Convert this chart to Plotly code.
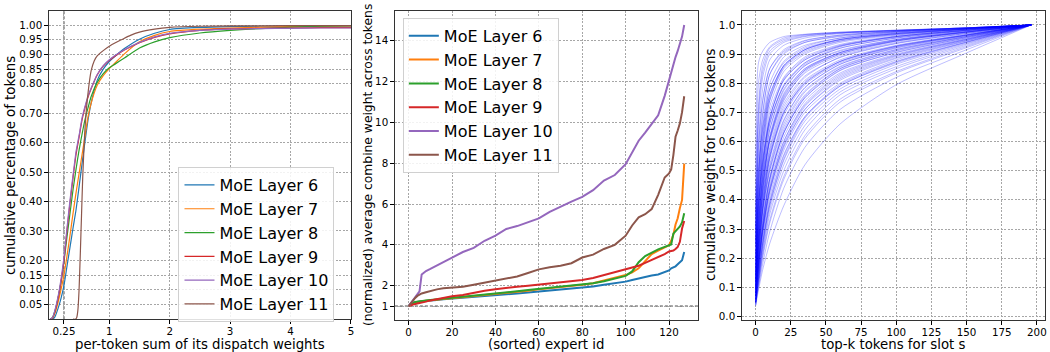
import plotly.graph_objects as go

FONT = "DejaVu Sans"

layer_names = ["MoE Layer 6", "MoE Layer 7", "MoE Layer 8",
               "MoE Layer 9", "MoE Layer 10", "MoE Layer 11"]
layer_colors = ["#1f77b4", "#ff7f0e", "#2ca02c", "#d62728", "#9467bd", "#8c564b"]

# ---------- left panel: CDF of the per-token sum of dispatch weights ----------
dispatch_sum = [0.02, 0.06, 0.1, 0.15, 0.2, 0.25, 0.3, 0.35, 0.4, 0.45, 0.5, 0.55,
                0.6, 0.65, 0.7, 0.8, 0.9, 1.0, 1.1, 1.25, 1.5, 1.75, 2.0, 2.5,
                3.0, 3.5, 4.0, 4.5, 5.0]
cdf_layer6 = [0.0, 0.0, 0.008, 0.035, 0.07, 0.115, 0.18, 0.245, 0.31, 0.372, 0.45, 0.53,
              0.607, 0.68, 0.735, 0.812, 0.85, 0.876, 0.895, 0.92, 0.952, 0.972, 0.985, 0.992,
              0.995, 0.996, 0.997, 0.997, 0.997]
cdf_layer7 = [0.0, 0.003, 0.02, 0.055, 0.1, 0.15, 0.215, 0.285, 0.36, 0.43, 0.495, 0.56,
              0.625, 0.69, 0.735, 0.795, 0.828, 0.852, 0.872, 0.902, 0.943, 0.965, 0.978, 0.986,
              0.99, 0.993, 0.995, 0.996, 0.997]
cdf_layer8 = [0.0, 0.005, 0.028, 0.07, 0.125, 0.195, 0.28, 0.36, 0.44, 0.51, 0.575, 0.63,
              0.68, 0.72, 0.757, 0.805, 0.835, 0.855, 0.868, 0.888, 0.922, 0.943, 0.957, 0.973,
              0.982, 0.988, 0.993, 0.996, 0.998]
cdf_layer9 = [0.0, 0.004, 0.025, 0.068, 0.125, 0.2, 0.3, 0.395, 0.48, 0.56, 0.618, 0.678,
              0.72, 0.756, 0.783, 0.83, 0.86, 0.88, 0.895, 0.915, 0.94, 0.958, 0.97, 0.982,
              0.987, 0.989, 0.99, 0.991, 0.991]
cdf_layer10 = [0.0, 0.005, 0.03, 0.075, 0.135, 0.21, 0.31, 0.405, 0.49, 0.57, 0.625, 0.685,
               0.725, 0.76, 0.786, 0.832, 0.862, 0.882, 0.897, 0.916, 0.941, 0.96, 0.972, 0.982,
               0.986, 0.988, 0.989, 0.99, 0.99]
dispatch_sum_l11 = [0.40, 0.44, 0.46, 0.48, 0.50, 0.52, 0.54, 0.56, 0.59, 0.62, 0.66, 0.70,
                    0.75, 0.80, 0.90, 1.0, 1.1, 1.2, 1.35, 1.5, 1.75, 2.0, 2.5, 3.0, 4.0, 5.0]
cdf_layer11 = [0.0, 0.0, 0.005, 0.03, 0.10, 0.22, 0.35, 0.48, 0.62, 0.71, 0.79, 0.845,
               0.878, 0.895, 0.913, 0.928, 0.94, 0.95, 0.965, 0.976, 0.986, 0.992, 0.996,
               0.997, 0.998, 0.998]
cdf_ticks = [0.05, 0.10, 0.15, 0.20, 0.30, 0.40, 0.50, 0.60, 0.70, 0.80, 0.85, 0.90, 0.95, 1.00]
dispatch_ticks = [0.25, 1, 2, 3, 4, 5]

# ---------- middle panel: sorted average combine weight per expert ----------
expert_ids = [0, 1, 2, 3, 4, 5, 6, 8, 10, 13, 16, 20, 25, 30, 35, 40, 45, 50, 55, 60, 65,
              70, 75, 80, 85, 90, 95, 100, 103, 106, 109, 112, 115, 118, 120, 121, 122,
              123, 124, 125, 126, 127]
combine_layer6 = [1.0, 1.12, 1.17, 1.2, 1.22, 1.23, 1.24, 1.25, 1.27, 1.3, 1.33, 1.36, 1.41,
                  1.46, 1.5, 1.54, 1.58, 1.62, 1.67, 1.72, 1.76, 1.8, 1.85, 1.9, 1.96, 2.05,
                  2.12, 2.2, 2.28, 2.35, 2.45, 2.5, 2.55, 2.65, 2.75, 2.85, 2.9, 2.95, 3.05,
                  3.15, 3.25, 3.65]
combine_layer7 = [1.0, 1.08, 1.12, 1.17, 1.2, 1.22, 1.24, 1.26, 1.29, 1.32, 1.35, 1.38, 1.43,
                  1.5, 1.55, 1.6, 1.65, 1.7, 1.75, 1.82, 1.87, 1.93, 1.98, 2.05, 2.12, 2.25,
                  2.4, 2.52, 2.65, 2.85, 3.2, 3.55, 3.72, 3.88, 3.98, 4.2, 4.5, 5.0, 5.3,
                  5.8, 6.2, 7.98]
combine_layer8 = [1.0, 1.1, 1.15, 1.2, 1.22, 1.24, 1.25, 1.27, 1.3, 1.33, 1.37, 1.4, 1.45,
                  1.52, 1.58, 1.63, 1.68, 1.73, 1.79, 1.85, 1.9, 1.96, 2.02, 2.07, 2.12, 2.22,
                  2.35, 2.48, 2.7, 3.15, 3.45, 3.62, 3.78, 3.9, 3.98, 4.02, 4.55, 4.65, 4.78,
                  4.9, 5.1, 5.55]
combine_layer9 = [1.0, 1.05, 1.08, 1.1, 1.12, 1.15, 1.18, 1.22, 1.28, 1.35, 1.42, 1.48, 1.55,
                  1.66, 1.75, 1.83, 1.9, 1.95, 2.0, 2.06, 2.12, 2.16, 2.21, 2.28, 2.38, 2.52,
                  2.65, 2.78, 2.88, 2.98, 3.12, 3.25, 3.38, 3.55, 3.68, 3.7, 3.72, 3.8, 3.9,
                  4.15, 4.8, 5.17]
combine_layer10 = [1.0, 1.15, 1.3, 1.45, 1.55, 1.72, 2.55, 2.72, 2.82, 2.98, 3.15, 3.38, 3.65,
                   3.85, 4.2, 4.45, 4.78, 4.92, 5.12, 5.3, 5.62, 5.88, 6.12, 6.35, 6.68, 7.15,
                   7.42, 7.95, 8.5, 9.1, 9.5, 9.95, 10.35, 11.3, 12.1, 12.4, 12.9, 13.2, 13.5,
                   13.85, 14.2, 14.77]
combine_layer11 = [1.0, 1.15, 1.28, 1.4, 1.5, 1.58, 1.62, 1.68, 1.74, 1.82, 1.87, 1.9, 1.95,
                   2.05, 2.15, 2.25, 2.38, 2.45, 2.62, 2.8, 2.9, 2.98, 3.1, 3.38, 3.52, 3.8,
                   4.0, 4.45, 4.95, 5.35, 5.5, 5.75, 6.45, 7.3, 7.5, 7.7, 8.4, 9.3, 9.6, 9.95,
                   10.5, 11.28]
combine_ticks = [1, 2, 4, 6, 8, 10, 12, 14]
expert_ticks = [0, 20, 40, 60, 80, 100, 120]

# ---------- right panel: cumulative weight of the top-k tokens per slot ----------
topk_knots = [0, 2, 5, 10, 20, 35, 60, 100, 150, 196]
slot_curves = [
    [0.30, 0.87, 0.91, 0.94, 0.96, 0.968, 0.975, 0.982, 0.99, 1.0],
    [0.35, 0.80, 0.88, 0.925, 0.955, 0.967, 0.975, 0.982, 0.99, 1.0],
    [0.22, 0.72, 0.86, 0.92, 0.95, 0.965, 0.973, 0.981, 0.99, 1.0],
    [0.26, 0.70, 0.84, 0.91, 0.945, 0.962, 0.973, 0.981, 0.99, 1.0],
    [0.25, 0.66, 0.82, 0.90, 0.94, 0.96, 0.972, 0.98, 0.99, 1.0],
    [0.20, 0.60, 0.78, 0.88, 0.93, 0.955, 0.97, 0.98, 0.99, 1.0],
    [0.28, 0.58, 0.74, 0.85, 0.91, 0.945, 0.965, 0.978, 0.989, 1.0],
    [0.18, 0.55, 0.74, 0.85, 0.915, 0.947, 0.965, 0.978, 0.989, 1.0],
    [0.16, 0.50, 0.70, 0.83, 0.90, 0.94, 0.96, 0.976, 0.988, 1.0],
    [0.30, 0.50, 0.64, 0.76, 0.86, 0.915, 0.95, 0.97, 0.986, 1.0],
    [0.24, 0.48, 0.65, 0.78, 0.875, 0.925, 0.955, 0.973, 0.987, 1.0],
    [0.12, 0.46, 0.69, 0.83, 0.905, 0.94, 0.962, 0.977, 0.988, 1.0],
    [0.15, 0.45, 0.66, 0.80, 0.89, 0.93, 0.955, 0.975, 0.988, 1.0],
    [0.20, 0.44, 0.61, 0.75, 0.86, 0.915, 0.95, 0.97, 0.986, 1.0],
    [0.17, 0.42, 0.62, 0.78, 0.87, 0.92, 0.95, 0.972, 0.987, 1.0],
    [0.25, 0.40, 0.54, 0.67, 0.79, 0.865, 0.92, 0.955, 0.98, 1.0],
    [0.13, 0.40, 0.60, 0.76, 0.86, 0.915, 0.948, 0.97, 0.986, 1.0],
    [0.11, 0.38, 0.58, 0.74, 0.85, 0.905, 0.944, 0.968, 0.985, 1.0],
    [0.20, 0.38, 0.52, 0.66, 0.79, 0.87, 0.925, 0.96, 0.982, 1.0],
    [0.12, 0.36, 0.56, 0.72, 0.84, 0.90, 0.94, 0.965, 0.985, 1.0],
    [0.16, 0.36, 0.53, 0.68, 0.81, 0.88, 0.927, 0.958, 0.981, 1.0],
    [0.09, 0.35, 0.57, 0.74, 0.855, 0.91, 0.945, 0.967, 0.985, 1.0],
    [0.14, 0.34, 0.53, 0.70, 0.82, 0.89, 0.933, 0.962, 0.983, 1.0],
    [0.18, 0.33, 0.47, 0.61, 0.75, 0.845, 0.905, 0.948, 0.976, 1.0],
    [0.09, 0.32, 0.51, 0.68, 0.81, 0.88, 0.928, 0.96, 0.982, 1.0],
    [0.13, 0.31, 0.48, 0.64, 0.775, 0.86, 0.913, 0.95, 0.977, 1.0],
    [0.10, 0.30, 0.49, 0.66, 0.795, 0.87, 0.92, 0.955, 0.98, 1.0],
    [0.15, 0.30, 0.45, 0.60, 0.74, 0.84, 0.90, 0.945, 0.975, 1.0],
    [0.08, 0.29, 0.50, 0.68, 0.815, 0.885, 0.93, 0.96, 0.982, 1.0],
    [0.10, 0.28, 0.47, 0.64, 0.78, 0.86, 0.91, 0.95, 0.978, 1.0],
    [0.08, 0.27, 0.45, 0.62, 0.765, 0.85, 0.905, 0.947, 0.976, 1.0],
    [0.13, 0.27, 0.42, 0.57, 0.72, 0.82, 0.89, 0.937, 0.971, 1.0],
    [0.12, 0.26, 0.44, 0.61, 0.755, 0.845, 0.90, 0.944, 0.975, 1.0],
    [0.07, 0.25, 0.43, 0.60, 0.745, 0.835, 0.895, 0.94, 0.973, 1.0],
    [0.14, 0.25, 0.37, 0.50, 0.65, 0.77, 0.855, 0.915, 0.96, 1.0],
    [0.11, 0.25, 0.40, 0.55, 0.70, 0.805, 0.875, 0.927, 0.965, 1.0],
    [0.09, 0.24, 0.41, 0.58, 0.73, 0.825, 0.888, 0.936, 0.971, 1.0],
    [0.06, 0.24, 0.43, 0.61, 0.76, 0.85, 0.905, 0.945, 0.975, 1.0],
    [0.11, 0.23, 0.36, 0.51, 0.67, 0.785, 0.865, 0.922, 0.964, 1.0],
    [0.08, 0.22, 0.39, 0.56, 0.71, 0.81, 0.88, 0.93, 0.968, 1.0],
    [0.06, 0.21, 0.38, 0.55, 0.70, 0.80, 0.874, 0.926, 0.966, 1.0],
    [0.10, 0.21, 0.37, 0.54, 0.69, 0.795, 0.87, 0.924, 0.965, 1.0],
    [0.07, 0.20, 0.36, 0.52, 0.675, 0.785, 0.865, 0.92, 0.963, 1.0],
    [0.05, 0.20, 0.37, 0.54, 0.70, 0.80, 0.875, 0.928, 0.966, 1.0],
    [0.09, 0.20, 0.33, 0.47, 0.63, 0.755, 0.85, 0.912, 0.96, 1.0],
    [0.05, 0.19, 0.34, 0.50, 0.66, 0.775, 0.858, 0.916, 0.961, 1.0],
    [0.10, 0.19, 0.30, 0.43, 0.58, 0.71, 0.81, 0.885, 0.946, 1.0],
    [0.07, 0.18, 0.32, 0.48, 0.64, 0.76, 0.85, 0.91, 0.958, 1.0],
    [0.08, 0.18, 0.30, 0.44, 0.60, 0.73, 0.83, 0.897, 0.952, 1.0],
    [0.08, 0.175, 0.31, 0.47, 0.63, 0.75, 0.843, 0.906, 0.956, 1.0],
    [0.06, 0.17, 0.30, 0.455, 0.615, 0.74, 0.835, 0.90, 0.953, 1.0],
    [0.07, 0.17, 0.29, 0.43, 0.59, 0.72, 0.82, 0.892, 0.95, 1.0],
    [0.05, 0.16, 0.29, 0.44, 0.60, 0.725, 0.825, 0.895, 0.95, 1.0],
    [0.04, 0.16, 0.31, 0.47, 0.63, 0.75, 0.845, 0.905, 0.956, 1.0],
    [0.07, 0.155, 0.28, 0.425, 0.585, 0.71, 0.815, 0.888, 0.948, 1.0],
    [0.06, 0.15, 0.27, 0.41, 0.57, 0.70, 0.80, 0.88, 0.945, 1.0],
    [0.05, 0.14, 0.255, 0.395, 0.555, 0.685, 0.79, 0.873, 0.941, 1.0],
    [0.06, 0.14, 0.25, 0.38, 0.54, 0.68, 0.79, 0.87, 0.94, 1.0],
    [0.045, 0.13, 0.24, 0.38, 0.535, 0.67, 0.78, 0.865, 0.937, 1.0],
    [0.05, 0.13, 0.25, 0.39, 0.55, 0.685, 0.795, 0.875, 0.942, 1.0],
    [0.05, 0.125, 0.23, 0.365, 0.52, 0.655, 0.77, 0.857, 0.934, 1.0],
    [0.05, 0.12, 0.22, 0.35, 0.50, 0.64, 0.76, 0.85, 0.93, 1.0],
    [0.04, 0.11, 0.20, 0.32, 0.47, 0.61, 0.735, 0.835, 0.922, 1.0],
    [0.04, 0.11, 0.21, 0.33, 0.48, 0.62, 0.745, 0.84, 0.926, 1.0],
    [0.045, 0.10, 0.18, 0.29, 0.44, 0.58, 0.71, 0.82, 0.915, 1.0],
    [0.036, 0.09, 0.16, 0.25, 0.38, 0.52, 0.66, 0.795, 0.904, 1.0],
]
slot_y_ticks = [0.0, 0.1, 0.2, 0.3, 0.4, 0.5, 0.6, 0.7, 0.8, 0.9, 1.0]
slot_x_ticks = [0, 25, 50, 75, 100, 125, 150, 175, 200]

# ---------- figure ----------
W, H = 1050, 352
fig = go.Figure()

cdf_series = [(dispatch_sum, cdf_layer6), (dispatch_sum, cdf_layer7), (dispatch_sum, cdf_layer8),
              (dispatch_sum, cdf_layer9), (dispatch_sum, cdf_layer10),
              (dispatch_sum_l11, cdf_layer11)]
for name, color, (xs, ys) in zip(layer_names, layer_colors, cdf_series):
    fig.add_trace(go.Scatter(
        x=xs, y=ys, mode="lines", name=name, xaxis="x", yaxis="y",
        line=dict(color=color, width=1.2, shape="spline", smoothing=0.6),
        legend="legend"))

combine_series = [combine_layer6, combine_layer7, combine_layer8,
                  combine_layer9, combine_layer10, combine_layer11]
for name, color, ys in zip(layer_names, layer_colors, combine_series):
    fig.add_trace(go.Scatter(
        x=expert_ids, y=ys, mode="lines", name=name, xaxis="x2", yaxis="y2",
        line=dict(color=color, width=2),
        legend="legend2"))

for row in slot_curves:
    fig.add_trace(go.Scatter(
        x=topk_knots, y=row, mode="lines", xaxis="x3", yaxis="y3", showlegend=False,
        hoverinfo="skip",
        line=dict(color="rgba(0,0,255,0.26)", width=1, shape="spline", smoothing=0.7)))


def axis(**kw):
    base = dict(showline=True, linecolor="#333333", linewidth=1.2, mirror=True,
                ticks="outside", ticklen=3.5, tickwidth=0.8, tickcolor="#000000",
                showgrid=True, gridcolor="#a6a6a6", gridwidth=0.8, griddash="2px,1.5px",
                zeroline=False, fixedrange=True,
                tickfont=dict(family=FONT, size=10.3, color="#000000"))
    base.update(kw)
    return base


def xdom(a, b):
    return [a / W, b / W]


def ydom(top, bottom):
    return [1 - bottom / H, 1 - top / H]


legend_style = dict(xanchor="left", yanchor="top", bgcolor="rgba(255,255,255,0.85)",
                    bordercolor="#d0d0d0", borderwidth=1, tracegroupgap=0,
                    font=dict(family=FONT, size=16, color="#000000"))

fig.update_layout(
    width=W, height=H, autosize=False,
    margin=dict(l=0, r=0, t=0, b=0),
    paper_bgcolor="white", plot_bgcolor="white",
    font=dict(family=FONT, color="#000000"),
    xaxis=axis(domain=xdom(49, 352), anchor="y", range=[0, 5], ticklabelstandoff=-1,
               tickvals=dispatch_ticks, ticktext=["0.25", "1", "2", "3", "4", "5"]),
    yaxis=axis(domain=ydom(11, 321), anchor="x", range=[0, 1.048],
               tickvals=cdf_ticks, ticktext=[f"{v:.2f}" for v in cdf_ticks]),
    xaxis2=axis(domain=xdom(396, 700), anchor="y2", range=[-6.35, 133.35],
                ticklabelstandoff=-1, tickvals=expert_ticks),
    yaxis2=axis(domain=ydom(11, 322), anchor="x2", range=[0.3115, 15.4585],
                tickvals=combine_ticks),
    xaxis3=axis(domain=xdom(744, 1048), anchor="y3", range=[-9.8, 205.8],
                ticklabelstandoff=-1, tickvals=slot_x_ticks),
    yaxis3=axis(domain=ydom(11, 322), anchor="x3", range=[-0.0126, 1.048],
                tickvals=slot_y_ticks, ticktext=[f"{v:.1f}" for v in slot_y_ticks]),
    legend=dict(x=179 / W, y=1 - 168 / H, **legend_style),
    legend2=dict(x=404 / W, y=1 - 18 / H, **legend_style),
    showlegend=True,
)

# emphasised reference lines: x = 0.25 on the left, y = 1 in the middle
fig.add_shape(type="line", xref="x", yref="y domain", x0=0.25, x1=0.25, y0=0, y1=1,
              line=dict(color="#8a8a8a", width=1.6, dash="3px,2px"), layer="below")
fig.add_shape(type="line", xref="x2 domain", yref="y2", x0=0, x1=1, y0=1, y1=1,
              line=dict(color="#8a8a8a", width=1.6, dash="3px,2px"), layer="below")

title_font = dict(family=FONT, size=13.3, color="#000000")
x_titles = [("per-token sum of its dispatch weights", (49 + 352) / 2),
            ("(sorted) expert id", (396 + 700) / 2),
            ("top-k tokens for slot s", (744 + 1048) / 2)]
for text, cx in x_titles:
    fig.add_annotation(text=text, xref="paper", yref="paper", x=cx / W, y=1 - 346 / H,
                       xanchor="center", yanchor="middle", showarrow=False, borderpad=0,
                       font=title_font)

y_titles = [("cumulative percentage of tokens", 10, 13.3),
            ("(normalized) average combine weight across tokens", 369, 12.3),
            ("cumulative weight for top-k tokens", 712, 13.3)]
for text, cx, size in y_titles:
    fig.add_annotation(text=text, xref="paper", yref="paper", x=cx / W, y=1 - 166 / H,
                       xanchor="center", yanchor="middle", textangle=-90, showarrow=False,
                       borderpad=0, font=dict(family=FONT, size=size, color="#000000"))

fig.write_html("out.html")
